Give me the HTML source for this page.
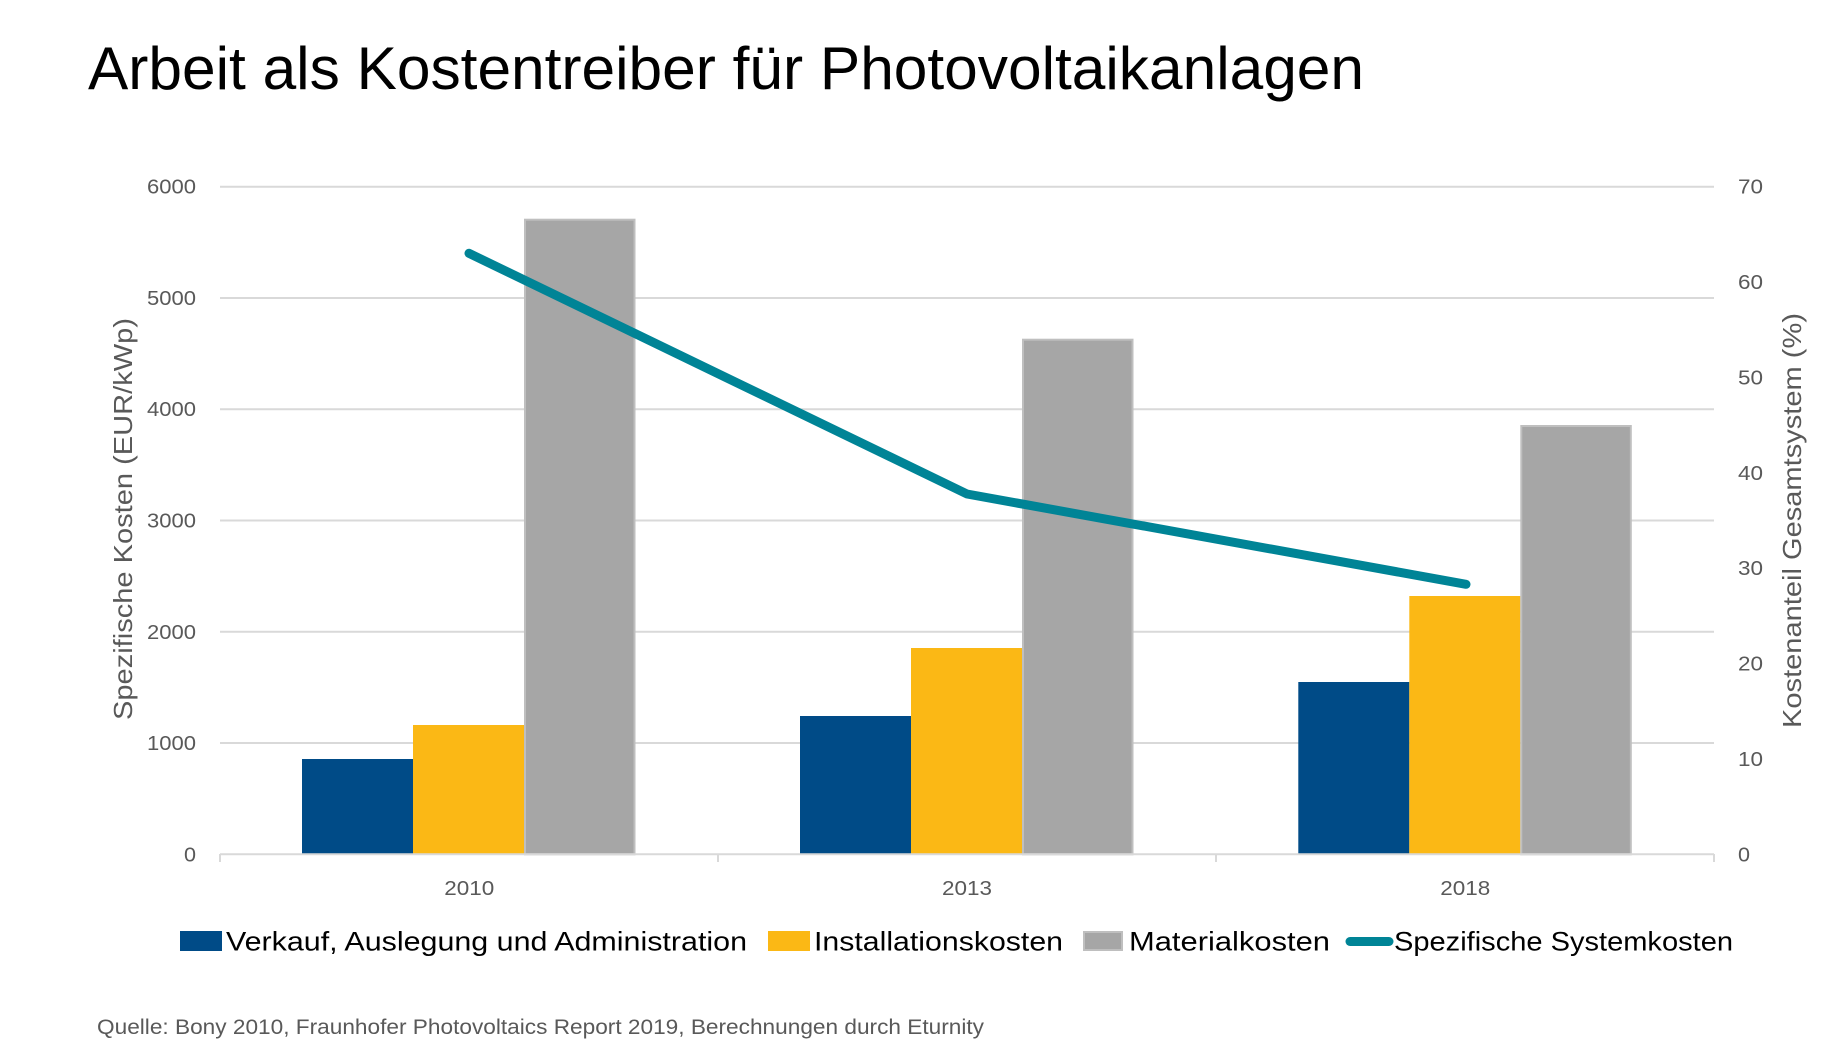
<!DOCTYPE html>
<html>
<head>
<meta charset="utf-8">
<style>
  html, body { margin: 0; padding: 0; background: #ffffff; }
  svg { display: block; }
  text { font-family: "Liberation Sans", "DejaVu Sans", sans-serif; }
</style>
</head>
<body>
<svg width="1836" height="1058" viewBox="0 0 1836 1058" xmlns="http://www.w3.org/2000/svg">
  <rect x="0" y="0" width="1836" height="1058" fill="#ffffff"/>

  <!-- Title -->
  <text x="88" y="89" font-size="60" fill="#000000" textLength="1276" lengthAdjust="spacingAndGlyphs">Arbeit als Kostentreiber für Photovoltaikanlagen</text>

  <!-- Gridlines -->
  <g stroke="#d9d9d9" stroke-width="2">
    <line x1="220" y1="186.7" x2="1714" y2="186.7"/>
    <line x1="220" y1="298.0" x2="1714" y2="298.0"/>
    <line x1="220" y1="409.2" x2="1714" y2="409.2"/>
    <line x1="220" y1="520.5" x2="1714" y2="520.5"/>
    <line x1="220" y1="631.8" x2="1714" y2="631.8"/>
    <line x1="220" y1="743.0" x2="1714" y2="743.0"/>
  </g>

  <!-- Bars 2010 -->
  <rect x="302" y="759" width="111" height="95.3" fill="#004b87"/>
  <rect x="413" y="725" width="111" height="129.3" fill="#fbb815"/>
  <rect x="525" y="219.7" width="109.5" height="634.6" fill="#a6a6a6" stroke="#bfbfbf" stroke-width="2"/>

  <!-- Bars 2013 -->
  <rect x="800" y="716" width="111" height="138.3" fill="#004b87"/>
  <rect x="911" y="648" width="111" height="206.3" fill="#fbb815"/>
  <rect x="1023" y="339.7" width="109.5" height="514.6" fill="#a6a6a6" stroke="#bfbfbf" stroke-width="2"/>

  <!-- Bars 2018 -->
  <rect x="1298.3" y="682" width="111" height="172.3" fill="#004b87"/>
  <rect x="1409.3" y="596" width="111" height="258.3" fill="#fbb815"/>
  <rect x="1521.3" y="426" width="109.5" height="428.3" fill="#a6a6a6" stroke="#bfbfbf" stroke-width="2"/>

  <!-- X axis line & ticks -->
  <g stroke="#d9d9d9" stroke-width="2">
    <line x1="220" y1="854.3" x2="1714" y2="854.3"/>
    <line x1="220" y1="854" x2="220" y2="862"/>
    <line x1="718" y1="854" x2="718" y2="862"/>
    <line x1="1216" y1="854" x2="1216" y2="862"/>
    <line x1="1714" y1="854" x2="1714" y2="862"/>
  </g>

  <!-- Line series -->
  <polyline points="469,253.3 967,494 1466,584.3" fill="none" stroke="#008496" stroke-width="9" stroke-linecap="round" stroke-linejoin="round"/>

  <!-- Left tick labels -->
  <g font-size="20" fill="#595959" text-anchor="end">
    <text x="196" y="193.7" textLength="49" lengthAdjust="spacingAndGlyphs">6000</text>
    <text x="196" y="305.0" textLength="49" lengthAdjust="spacingAndGlyphs">5000</text>
    <text x="196" y="416.2" textLength="49" lengthAdjust="spacingAndGlyphs">4000</text>
    <text x="196" y="527.5" textLength="49" lengthAdjust="spacingAndGlyphs">3000</text>
    <text x="196" y="638.8" textLength="49" lengthAdjust="spacingAndGlyphs">2000</text>
    <text x="196" y="750.0" textLength="49" lengthAdjust="spacingAndGlyphs">1000</text>
    <text x="196" y="861.3" textLength="12" lengthAdjust="spacingAndGlyphs">0</text>
  </g>

  <!-- Right tick labels -->
  <g font-size="20" fill="#595959" text-anchor="start">
    <text x="1738" y="193.7" textLength="25" lengthAdjust="spacingAndGlyphs">70</text>
    <text x="1738" y="289.1" textLength="25" lengthAdjust="spacingAndGlyphs">60</text>
    <text x="1738" y="384.5" textLength="25" lengthAdjust="spacingAndGlyphs">50</text>
    <text x="1738" y="479.8" textLength="25" lengthAdjust="spacingAndGlyphs">40</text>
    <text x="1738" y="575.2" textLength="25" lengthAdjust="spacingAndGlyphs">30</text>
    <text x="1738" y="670.6" textLength="25" lengthAdjust="spacingAndGlyphs">20</text>
    <text x="1738" y="766.0" textLength="25" lengthAdjust="spacingAndGlyphs">10</text>
    <text x="1738" y="861.3" textLength="12" lengthAdjust="spacingAndGlyphs">0</text>
  </g>

  <!-- Category labels -->
  <g font-size="20" fill="#595959" text-anchor="middle">
    <text x="469.3" y="895" textLength="50" lengthAdjust="spacingAndGlyphs">2010</text>
    <text x="967" y="895" textLength="50" lengthAdjust="spacingAndGlyphs">2013</text>
    <text x="1465.3" y="895" textLength="50" lengthAdjust="spacingAndGlyphs">2018</text>
  </g>

  <!-- Axis titles -->
  <text transform="translate(132,519) rotate(-90)" font-size="26" fill="#595959" text-anchor="middle" textLength="402" lengthAdjust="spacingAndGlyphs">Spezifische Kosten (EUR/kWp)</text>
  <text transform="translate(1801,520.5) rotate(-90)" font-size="26" fill="#595959" text-anchor="middle" textLength="415" lengthAdjust="spacingAndGlyphs">Kostenanteil Gesamtsystem (%)</text>

  <!-- Legend -->
  <rect x="180" y="931" width="42" height="20" fill="#004b87"/>
  <text x="226" y="950.5" font-size="27" fill="#000000" textLength="521" lengthAdjust="spacingAndGlyphs">Verkauf, Auslegung und Administration</text>

  <rect x="768" y="931" width="42" height="20" fill="#fbb815"/>
  <text x="814" y="950.5" font-size="27" fill="#000000" textLength="249" lengthAdjust="spacingAndGlyphs">Installationskosten</text>

  <rect x="1084" y="932" width="38" height="18" fill="#a6a6a6" stroke="#bfbfbf" stroke-width="2"/>
  <text x="1129" y="950.5" font-size="27" fill="#000000" textLength="201" lengthAdjust="spacingAndGlyphs">Materialkosten</text>

  <line x1="1350" y1="941.5" x2="1389" y2="941.5" stroke="#008496" stroke-width="9" stroke-linecap="round"/>
  <text x="1394" y="950.5" font-size="27" fill="#000000" textLength="339" lengthAdjust="spacingAndGlyphs">Spezifische Systemkosten</text>

  <!-- Source -->
  <text x="97" y="1034" font-size="21" fill="#595959" textLength="887" lengthAdjust="spacingAndGlyphs">Quelle: Bony 2010, Fraunhofer Photovoltaics Report 2019, Berechnungen durch Eturnity</text>
</svg>
</body>
</html>
